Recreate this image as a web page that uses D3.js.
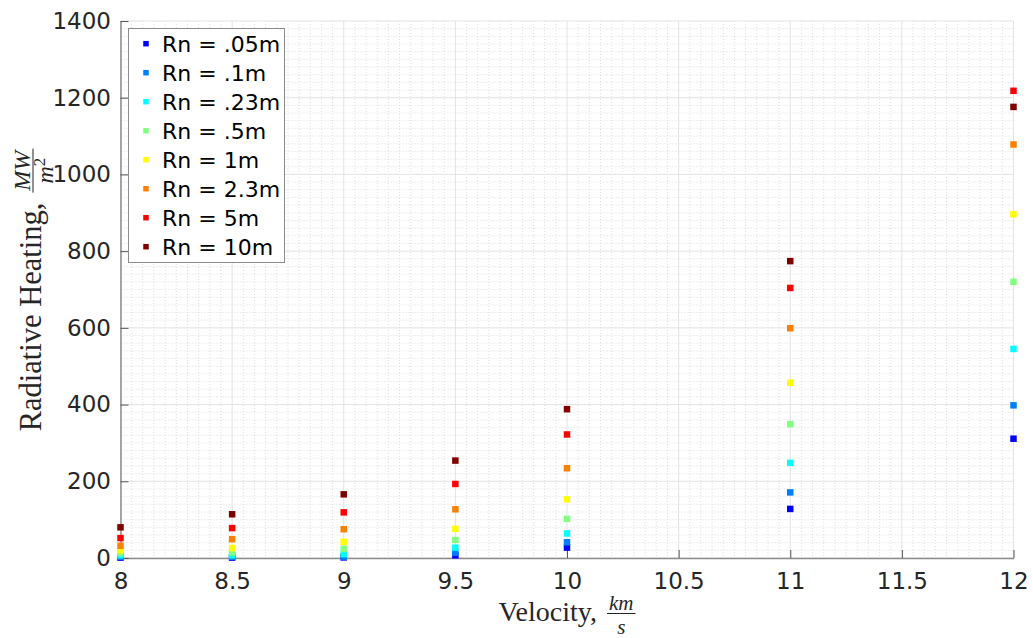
<!DOCTYPE html>
<html>
<head>
<meta charset="utf-8">
<script src="https://cdn.jsdelivr.net/npm/d3@7"></script>
<style>
  html, body { margin: 0; padding: 0; background: #fff; }
  svg { display: block; }
</style>
</head>
<body>
<svg id="chart" width="1033" height="638"></svg>
<script>
// Velocity (km/s) at which each nose radius was evaluated
const velocity = [8, 8.5, 9, 9.5, 10, 11, 12];

// Radiative heating (MW/m^2) for each nose radius Rn
const q005 = [1, 1, 1.5, 7, 27, 128, 311];
const q01  = [3, 3, 3.5, 14, 41, 171, 398];
const q023 = [7, 7, 10, 27, 64, 248, 545];
const q05  = [13, 14, 24, 47, 102, 349, 720];
const q1   = [20, 26, 42, 76, 153, 457, 896];
const q23  = [32, 49, 75, 127, 234, 599, 1078];
const q5   = [52, 78, 119, 193, 322, 704, 1218];
const q10  = [80, 114, 166, 254, 388, 774, 1176];

const seriesNames = ["Rn = .05m", "Rn = .1m", "Rn = .23m", "Rn = .5m",
                     "Rn = 1m", "Rn = 2.3m", "Rn = 5m", "Rn = 10m"];
const seriesValues = [q005, q01, q023, q05, q1, q23, q5, q10];
// jet(8) colormap
const seriesColors = ["#0000ff", "#0080ff", "#00ffff", "#80ff80",
                      "#ffff00", "#ff8000", "#ff0000", "#800000"];

const xTicks = [8, 8.5, 9, 9.5, 10, 10.5, 11, 11.5, 12];
const yTicks = [0, 200, 400, 600, 800, 1000, 1200, 1400];

const svg = d3.select("#chart");
const plot = { left: 120.5, right: 1013.5, top: 21, bottom: 558 };

const x = d3.scaleLinear().domain([8, 12]).range([plot.left, plot.right]);
const y = d3.scaleLinear().domain([0, 1400]).range([plot.bottom, plot.top]);

const tickFont = "'DejaVu Sans', sans-serif";
const serif = "'Liberation Serif', 'Times New Roman', serif";

// Minor grid (dotted)
const minorX = d3.range(8, 12.0001, 0.05).filter(v => Math.abs(v * 2 - Math.round(v * 2)) > 1e-6);
const minorY = d3.range(0, 1400.001, 20).filter(v => v % 200 !== 0);
const grid = svg.append("g");
grid.selectAll("line.mx").data(minorX).join("line")
  .attr("x1", d => x(d)).attr("x2", d => x(d))
  .attr("y1", plot.top).attr("y2", plot.bottom)
  .attr("stroke", "#d6d6d6").attr("stroke-width", 0.8).attr("stroke-dasharray", "1,2");
grid.selectAll("line.my").data(minorY).join("line")
  .attr("y1", d => y(d)).attr("y2", d => y(d))
  .attr("x1", plot.left).attr("x2", plot.right)
  .attr("stroke", "#d6d6d6").attr("stroke-width", 0.8).attr("stroke-dasharray", "1,2");

// Major grid (solid)
grid.selectAll("line.gx").data(xTicks).join("line")
  .attr("x1", d => x(d)).attr("x2", d => x(d))
  .attr("y1", plot.top).attr("y2", plot.bottom)
  .attr("stroke", "#e3e3e3").attr("stroke-width", 1);
grid.selectAll("line.gy").data(yTicks).join("line")
  .attr("y1", d => y(d)).attr("y2", d => y(d))
  .attr("x1", plot.left).attr("x2", plot.right)
  .attr("stroke", "#e3e3e3").attr("stroke-width", 1);

// Axes with inward ticks
const xAxis = svg.append("g")
  .attr("transform", `translate(0,${plot.bottom})`)
  .call(d3.axisBottom(x).tickValues(xTicks).tickFormat(d3.format("~g"))
        .tickSizeInner(-8).tickSizeOuter(0).tickPadding(15));
const yAxis = svg.append("g")
  .attr("transform", `translate(${plot.left},0)`)
  .call(d3.axisLeft(y).tickValues(yTicks).tickFormat(d3.format("d"))
        .tickSizeInner(-8).tickSizeOuter(0).tickPadding(9.5));

[xAxis, yAxis].forEach(a => {
  a.select(".domain").attr("stroke", "#8c8c8c").attr("stroke-width", 1.5);
  a.selectAll(".tick line").attr("stroke", "#555").attr("stroke-width", 1);
  a.selectAll(".tick text").attr("fill", "#262626")
    .style("font-family", tickFont).style("font-size", "23px");
});

// Data markers
const marks = svg.append("g");
seriesValues.forEach((vals, i) => {
  const s = 6.5;
  marks.append("g").selectAll("rect").data(vals).join("rect")
    .attr("x", (d, j) => x(velocity[j]) - s / 2)
    .attr("y", d => y(d) - s / 2)
    .attr("width", s).attr("height", s)
    .attr("fill", seriesColors[i]);
});

// Fraction helper for the LaTeX-style unit labels
function fraction(g, num, den, sup, fs) {
  const nt = g.append("text").attr("y", -11).attr("text-anchor", "middle")
    .style("font-family", serif).style("font-style", "italic").style("font-size", fs + "px")
    .text(num);
  const dt = g.append("text").attr("y", 12.5).attr("text-anchor", "middle")
    .style("font-family", serif).style("font-style", "italic").style("font-size", fs + "px")
    .text(den);
  if (sup) {
    dt.append("tspan").attr("dy", -8).style("font-style", "normal")
      .style("font-size", (fs * 0.7) + "px").text(sup);
  }
  const w = Math.max(nt.node().getComputedTextLength(), dt.node().getComputedTextLength()) + 4;
  nt.attr("x", w / 2);
  dt.attr("x", w / 2);
  g.append("line").attr("x1", 0).attr("x2", w).attr("y1", -7.5).attr("y2", -7.5)
    .attr("stroke", "#262626").attr("stroke-width", 1);
  return w;
}

function axisTitle(parent, label, num, den, sup, fs, ffs) {
  const g = parent.append("g");
  const t = g.append("text").attr("x", 0).attr("y", 0)
    .attr("fill", "#262626")
    .style("font-family", serif).style("font-size", fs + "px").text(label);
  const tw = t.node().getComputedTextLength();
  const fg = g.append("g").attr("transform", `translate(${tw + 10},0)`).attr("fill", "#262626");
  const fw = fraction(fg, num, den, sup, ffs);
  return { g, width: tw + 10 + fw };
}

// X axis title
const xt = axisTitle(svg, "Velocity,", "km", "s", null, 28, 21);
xt.g.attr("transform", `translate(${(plot.left + plot.right) / 2 - xt.width / 2},621)`);

// Y axis title
const yt = axisTitle(svg, "Radiative Heating,", "MW", "m", "2", 30.5, 24);
yt.g.attr("transform", `translate(40.5,${290 + yt.width / 2}) rotate(-90)`);

// Legend
const legend = svg.append("g");
legend.append("rect").attr("x", 128.5).attr("y", 28.5).attr("width", 156).attr("height", 234)
  .attr("fill", "#fff").attr("stroke", "#8c8c8c").attr("stroke-width", 1);
seriesNames.forEach((name, i) => {
  const cy = 43.7 + i * 29;
  legend.append("rect").attr("x", 146 - 2.75).attr("y", cy - 2.75)
    .attr("width", 5.5).attr("height", 5.5).attr("fill", seriesColors[i]);
  legend.append("text").attr("x", 162).attr("y", cy).attr("dy", "0.36em")
    .attr("fill", "#000")
    .style("font-family", tickFont).style("font-size", "22px").text(name);
});
</script>
</body>
</html>
